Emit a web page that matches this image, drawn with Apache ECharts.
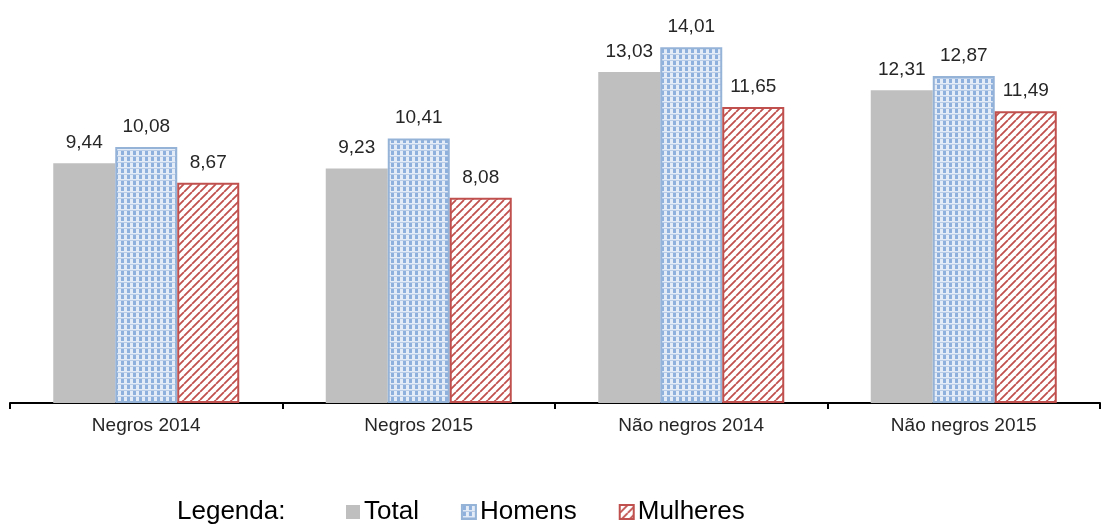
<!DOCTYPE html>
<html><head><meta charset="utf-8">
<script src="https://cdn.jsdelivr.net/npm/echarts@6/dist/echarts.min.js"></script>
<style>html,body{margin:0;padding:0;background:#fff}#c{width:1104px;height:525px}</style>
</head><body><div id="c"></div>
<script>
const categories = ['Negros 2014', 'Negros 2015', 'Não negros 2014', 'Não negros 2015'];
const totalValues = [9.44, 9.23, 13.03, 12.31];
const homensValues = [10.08, 10.41, 14.01, 12.87];
const mulheresValues = [8.67, 8.08, 11.65, 11.49];
const seriesNames = ['Total', 'Homens', 'Mulheres'];

function checkPattern() {
  const c = document.createElement('canvas');
  c.width = 6; c.height = 6;
  const g = c.getContext('2d');
  g.fillStyle = '#E4ECF7'; g.fillRect(0, 0, 6, 6);
  g.fillStyle = '#8EB0DC'; g.fillRect(1, 1, 3, 4);
  g.fillStyle = '#B9CDE9'; g.fillRect(0, 0, 6, 1);
  return c;
}
function hatchPattern() {
  const s = 8;
  const c = document.createElement('canvas');
  c.width = s; c.height = s;
  const g = c.getContext('2d');
  g.fillStyle = '#fff'; g.fillRect(0, 0, s, s);
  g.strokeStyle = '#C0504D'; g.lineWidth = 1.8;
  g.beginPath();
  for (let k = -1; k <= 1; k++) {
    g.moveTo(k * s, s); g.lineTo(k * s + s, 0);
  }
  g.stroke();
  return c;
}

const FONT = 'Liberation Sans, Arial, sans-serif';
const chart = echarts.init(document.getElementById('c'), null, {renderer: 'canvas'});
const labelCfg = {show: true, position: 'top', distance: 11, color: '#262626', fontSize: 19, fontFamily: FONT, formatter: p => p.value.toFixed(2).replace('.', ',')};
chart.setOption({
  animation: false,
  grid: {left: 10, right: 4, top: 22, bottom: 122},
  xAxis: {
    type: 'category', data: categories,
    axisLine: {lineStyle: {color: '#000', width: 2}},
    axisTick: {show: true, length: 6, inside: false, lineStyle: {color: '#000', width: 2}},
    axisLabel: {color: '#262626', fontSize: 19, margin: 13, fontFamily: FONT}
  },
  yAxis: {type: 'value', min: 0, max: 15, show: false, splitLine: {show: false}},
  legend: {
    top: 494, left: 341, itemWidth: 14, itemHeight: 14, itemGap: 42,
    icon: 'rect',
    textStyle: {fontSize: 26, color: '#000', fontFamily: FONT, padding: [0, 0, 0, -1]},
    data: seriesNames
  },
  graphic: [{type: 'text', left: 177, top: 499, style: {text: 'Legenda:', fontSize: 26, fill: '#000', fontFamily: FONT}}],
  series: [
    {name: seriesNames[0], type: 'bar', data: totalValues, barWidth: 62, barGap: '0%',
     itemStyle: {color: '#BFBFBF'}, label: labelCfg},
    {name: seriesNames[1], type: 'bar', data: homensValues, barWidth: 62,
     itemStyle: {color: {image: checkPattern(), repeat: 'repeat'}, borderColor: '#95B3D7', borderWidth: 2}, label: labelCfg},
    {name: seriesNames[2], type: 'bar', data: mulheresValues, barWidth: 62,
     itemStyle: {color: {image: hatchPattern(), repeat: 'repeat'}, borderColor: '#C0504D', borderWidth: 2}, label: labelCfg}
  ]
});
</script></body></html>
